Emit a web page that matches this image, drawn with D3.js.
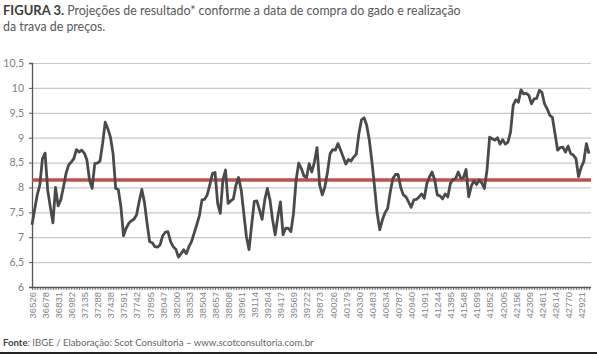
<!DOCTYPE html>
<html>
<head>
<meta charset="utf-8">
<script src="https://cdn.jsdelivr.net/npm/d3@7"></script>
<style>
    body { margin: 0; background: #fff; }
    svg { display: block; font-family: Lato, "Open Sans", sans-serif; }
</style>
</head>
<body>
<div id="chart"></div>
<script>
// X axis labels (Excel date serials, one every 5 months)
const xLabels = [
    "36526", "36678", "36831", "36982", "37135", "37288", "37438", "37591", "37742", "37895",
    "38047", "38200", "38353", "38504", "38657", "38808", "38961", "39114", "39264", "39417",
    "39569", "39722", "39873", "40026", "40179", "40330", "40483", "40634", "40787", "40940",
    "41091", "41244", "41395", "41548", "41699", "41852", "42005", "42156", "42309", "42461",
    "42614", "42770", "42921"
];

// Projected result, one value per month
const resultado = [
    7.25, 7.55, 7.85, 8.05, 8.58, 8.69, 7.95, 7.61, 7.29, 8.0,
    7.63, 7.75, 8.0, 8.28, 8.45, 8.51, 8.58, 8.76, 8.71, 8.75,
    8.69, 8.55, 8.15, 7.98, 8.48, 8.49, 8.53, 8.88, 9.31, 9.18,
    9.01, 8.68, 7.98, 7.96, 7.61, 7.03, 7.18, 7.28, 7.33, 7.36,
    7.45, 7.72, 7.96, 7.7, 7.28, 6.91, 6.89, 6.81, 6.8, 6.85,
    7.03, 7.1, 7.11, 6.91, 6.81, 6.76, 6.6, 6.67, 6.75, 6.67,
    6.81, 6.91, 7.08, 7.25, 7.43, 7.75, 7.76, 7.85, 8.05, 8.28,
    8.3, 7.68, 7.48, 8.15, 8.35, 7.68, 7.73, 7.77, 8.05, 8.2,
    7.95, 7.48, 7.01, 6.75, 7.25, 7.72, 7.73, 7.55, 7.36, 7.75,
    7.98, 7.75, 7.35, 7.05, 7.41, 7.71, 7.05, 7.18, 7.18, 7.11,
    7.48, 8.15, 8.49, 8.38, 8.23, 8.2, 8.48, 8.31, 8.51, 8.8,
    8.05, 7.85, 8.01, 8.31, 8.68, 8.76, 8.75, 8.88, 8.75, 8.61,
    8.47, 8.56, 8.53, 8.61, 8.67, 9.08, 9.36, 9.4, 9.25, 8.95,
    8.51, 8.01, 7.48, 7.15, 7.35, 7.49, 7.58, 7.91, 8.18, 8.26,
    8.26, 8.0, 7.85, 7.81, 7.71, 7.6, 7.75, 7.76, 7.81, 7.87,
    7.78, 8.08, 8.21, 8.31, 8.15, 7.85, 7.83, 7.77, 7.87, 7.81,
    8.08, 8.16, 8.18, 8.31, 8.18, 8.2, 8.36, 7.81, 8.03, 8.13,
    8.06, 8.15, 8.09, 7.98, 8.35, 9.01, 8.98, 8.95, 9.0, 8.87,
    8.96, 8.87, 8.91, 9.11, 9.65, 9.76, 9.71, 9.96, 9.88, 9.89,
    9.85, 9.68, 9.78, 9.79, 9.95, 9.91, 9.68, 9.58, 9.45, 9.41,
    9.08, 8.75, 8.8, 8.81, 8.71, 8.83, 8.68, 8.65, 8.58, 8.22,
    8.4, 8.52, 8.88, 8.68
];

// Reference level (red line)
const referencia = 8.15;

const yTicks = [6, 6.5, 7, 7.5, 8, 8.5, 9, 9.5, 10, 10.5];

const W = 597, H = 354;
const margin = { top: 63, right: 6, bottom: 67, left: 32 };

const svg = d3.select("#chart")
    .append("svg")
    .attr("width", W)
    .attr("height", H);

// Title
const title = svg.append("text")
    .attr("x", 3)
    .attr("y", 15)
    .style("font-size", "12.4px")
    .style("fill", "#585858");
title.append("tspan").style("font-weight", "bold").style("fill", "#3c3c3c").style("font-size", "13px").text("FIGURA 3.");
title.append("tspan").text(" Projeções de resultado* conforme a data de compra do gado e realização");
svg.append("text")
    .attr("x", 3)
    .attr("y", 31)
    .style("font-size", "12.4px")
    .style("fill", "#585858")
    .text("da trava de preços.");

const x = d3.scalePoint()
    .domain(d3.range(resultado.length))
    .range([margin.left, 589]);

const y = d3.scaleLinear()
    .domain([6, 10.5])
    .range([H - margin.bottom, margin.top]);

// Gridlines
svg.append("g")
    .attr("transform", `translate(${margin.left},0)`)
    .call(d3.axisLeft(y).tickValues(yTicks.slice(1)).tickSize(-(W - margin.left - margin.right)).tickFormat(""))
    .call(g => g.select(".domain").remove())
    .selectAll("line")
    .attr("stroke", "#c8c8c8")
    .attr("stroke-width", 1.2);

// Y axis
svg.append("g")
    .attr("transform", `translate(${margin.left},0)`)
    .call(d3.axisLeft(y).tickValues(yTicks).tickSize(3).tickPadding(5)
        .tickFormat(d => String(d).replace(".", ",")))
    .call(g => g.select(".domain").attr("stroke", "#555").attr("stroke-width", 1.3))
    .call(g => g.selectAll("line").attr("stroke", "#555"))
    .selectAll("text")
    .style("font-size", "10.5px")
    .style("fill", "#808080")
    .style("font-family", "Lato, sans-serif");

// X axis: a tick per month, a label every 5 months
svg.append("g")
    .attr("transform", `translate(0,${H - margin.bottom})`)
    .call(d3.axisBottom(x).tickSize(3).tickPadding(3)
        .tickFormat(i => i % 5 === 0 ? xLabels[i / 5] : ""))
    .call(g => g.select(".domain").attr("stroke", "#555").attr("stroke-width", 1.3)
        .attr("d", `M${margin.left},0.5H${W - margin.right}`))
    .call(g => g.selectAll("line").attr("stroke", "#555").attr("stroke-width", 0.8))
    .selectAll("text")
    .attr("transform", "rotate(-90)")
    .attr("x", -5)
    .attr("y", 0)
    .attr("dy", "0.35em")
    .style("text-anchor", "end")
    .style("font-size", "9.5px")
    .style("fill", "#858585");

// Red reference line
svg.append("line")
    .attr("x1", margin.left)
    .attr("x2", 591)
    .attr("y1", y(referencia))
    .attr("y2", y(referencia))
    .attr("stroke", "#c0504d")
    .attr("stroke-width", 3.5);

// Series line
const line = d3.line()
    .x((d, i) => x(i))
    .y(d => y(d));

svg.append("path")
    .datum(resultado)
    .attr("fill", "none")
    .attr("stroke", "#4a4a4a")
    .attr("stroke-width", 2.8)
    .attr("stroke-linejoin", "round")
    .attr("d", line);

// Footer
const fonte = svg.append("text")
    .attr("x", 3)
    .attr("y", 346)
    .style("font-size", "9.6px")
    .style("fill", "#666");
fonte.append("tspan").style("font-weight", "bold").style("fill", "#444").text("Fonte");
fonte.append("tspan").text(": IBGE / Elaboração: Scot Consultoria – www.scotconsultoria.com.br");

svg.append("rect")
    .attr("x", 0)
    .attr("y", 352)
    .attr("width", W)
    .attr("height", 2)
    .attr("fill", "#222");
</script>
</body>
</html>
